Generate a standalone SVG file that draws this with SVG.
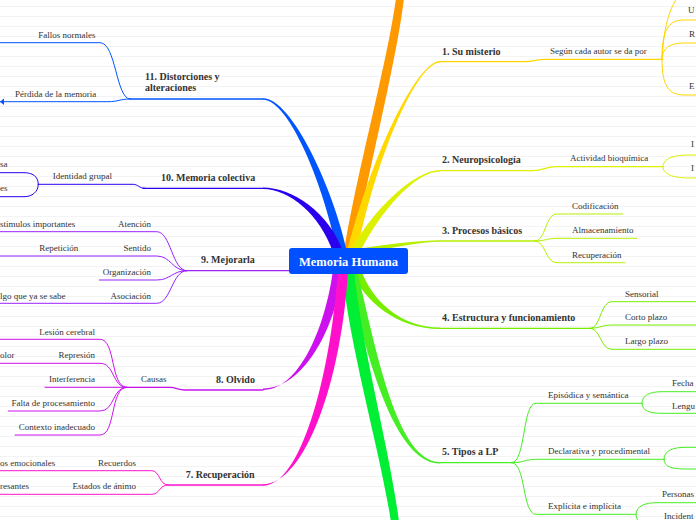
<svg xmlns="http://www.w3.org/2000/svg" width="696" height="520" viewBox="0 0 696 520">
<defs>
<pattern id="bg" width="696" height="10" patternUnits="userSpaceOnUse"><rect width="696" height="10" fill="#ffffff"/><line x1="0" y1="6.5" x2="696" y2="6.5" stroke="#f3f3f3" stroke-width="1"/></pattern>
<style>
.t{font-family:"Liberation Serif","Times New Roman",serif;font-size:9px;fill:#333}
.h{font-family:"Liberation Serif","Times New Roman",serif;font-size:10px;font-weight:bold;fill:#333}
.e{text-anchor:end}
.l{fill:none;stroke-width:1;stroke-linecap:round}
.m{fill:none;stroke-width:1.3;stroke-linecap:round}
</style>
</defs>
<rect width="696" height="520" fill="url(#bg)"/>
<g id="connectors">
<path d="M396,-2 C388,60 355,180 344,252 L354,252 C366,180 397,60 404,-2 Z" fill="#ff9900"/>
<path d="M347,252 C373,150 418,61 440,61 L440,62.5 C418,62.5 378,150 357,252 Z" fill="#ffd800"/>
<path d="M350,252 C372,210 415,170 440,170 L440,171.5 C415,171.5 380,212 360,252 Z" fill="#ddf000"/>
<path d="M356,249 C390,244 420,240.3 440,240.3 L440,241.7 C420,241.7 392,248 362,253 Z" fill="#b5f000"/>
<path d="M351,270 C364,302 398,329 440,329 L440,327.5 C400,327.5 372,300 361,270 Z" fill="#77ee00"/>
<path d="M347,270 C365,350 393,463.5 440,463.5 L440,462 C397,462 376,350 357,270 Z" fill="#44ee22"/>
<path d="M342,270 C350,350 380,450 391,522 L399,522 C390,450 362,350 354,270 Z" fill="#00ee33"/>
<path d="M333,270 C325,330 298,390 263,390 L263,388.5 C302,388.5 335,332 343,270 Z" fill="#cc11ee"/>
<path d="M338,270 C330,380 300,485.8 263,485.8 L263,484.3 C305,484.3 342,380 348,270 Z" fill="#ff11cc"/>
<path d="M337,252 C325,190 290,99.8 263,99.8 L263,98.3 C292,98.3 334,190 347,252 Z" fill="#0055ff"/>
<path d="M333,252 C320,215 290,189 263,189 L263,187.6 C292,187.6 330,213 343,252 Z" fill="#2a00ee"/>
<path d="M289,270 C310,270 330,265 345,260 L345,272 C330,272 310,271.5 289,271.5 Z" fill="#9922ff"/>
</g>
<g id="n1" stroke="#ffd500">
<path class="m" d="M440,61.7 L525,61.7 C533,61.7 536,59.3 545,59.3 L662,59.3"/>
<path class="l" d="M662,59.3 C664,20 672,5 678,-3 M662,59.3 C662,30 668,20 684,20 L697,20 M662,59.3 C662,48 670,43 684,43 L697,43 M662,59.3 C662,85 668,95 684,95 L697,95"/>
<g stroke="none"><text class="h" x="442" y="54.5">1. Su misterio</text><text class="t" x="550" y="54">Según cada autor se da por</text><text class="t" x="688" y="13">U</text><text class="t" x="689" y="37">R</text><text class="t" x="689" y="89">E</text></g>
</g>
<g id="n2" stroke="#ddf000">
<path class="m" d="M440,170.7 L533,170.7 C543,170.7 546,166.7 556,166.7 L663,166.7"/>
<path class="l" d="M663,166.7 C663,159 672,155 690,155 L697,155 M663,166.7 C663,174 672,178 690,178 L697,178"/>
<g stroke="none"><text class="h" x="442" y="163">2. Neuropsicología</text><text class="t" x="570" y="161">Actividad bioquímica</text><text class="t" x="691" y="147">I</text><text class="t" x="691" y="171">I</text></g>
</g>
<g id="n3" stroke="#b5f000">
<path class="m" d="M440,241 L535,241"/>
<path class="l" d="M535,241 C546,241 545,214 557,214 L623,214 M535,241 C545,241 548,238.3 557,238.3 L637,238.3 M535,241 C546,241 545,262.7 557,262.7 L625,262.7"/>
<g stroke="none"><text class="h" x="442" y="233.5">3. Procesos básicos</text><text class="t" x="572" y="209">Codificación</text><text class="t" x="572" y="233">Almacenamiento</text><text class="t" x="572" y="257.5">Recuperación</text></g>
</g>
<g id="n4" stroke="#77ee00">
<path class="m" d="M440,328.3 L590,328.3"/>
<path class="l" d="M590,328.3 C601,328.3 600,301.7 612,301.7 L697,301.7 M590,328.3 C600,328.3 602,325 612,325 L697,325 M590,328.3 C601,328.3 600,349.3 612,349.3 L697,349.3"/>
<g stroke="none"><text class="h" x="442" y="320.5">4. Estructura y funcionamiento</text><text class="t" x="625" y="296.5">Sensorial</text><text class="t" x="625" y="320">Corto plazo</text><text class="t" x="625" y="344">Largo plazo</text></g>
</g>
<g id="n5" stroke="#44ee22">
<path class="m" d="M440,462.7 L511.7,462.7"/>
<path class="l" d="M511.7,462.7 C526,462.7 522,403.3 536,403.3 L642,403.3 M511.7,462.7 C524,462.7 525,459.3 536,459.3 L664,459.3 M511.7,462.7 C526,462.7 522,514.3 536,514.3 L636,514.3"/>
<path class="l" d="M642,403.3 C642,395 650,391.7 662,391.7 L697,391.7 M642,403.3 C642,411 650,413.3 662,413.3 L697,413.3 M664,459.3 C664,451 672,447.3 686,447.3 L697,447.3 M664,459.3 C664,467 672,469 686,469 L697,469 M636,514.3 C636,506 645,502.7 657,502.7 L697,502.7 M636,514.3 C636,520 640,524 645,526"/>
<g stroke="none"><text class="h" x="442" y="455">5. Tipos a LP</text><text class="t" x="548" y="398">Episódica y semántica</text><text class="t" x="548" y="454">Declarativa y procedimental</text><text class="t" x="548" y="509">Explícita e implícita</text><text class="t" x="672" y="386">Fecha</text><text class="t" x="672" y="408.5">Lengu</text><text class="t" x="662" y="497">Personas</text><text class="t" x="664" y="519">Incident</text></g>
</g>
<g id="n11" stroke="#0055ff">
<path class="m" d="M130,99 L263,99"/>
<path class="l" d="M130,99 C116,99 116,42.7 100,42.7 L-1,42.7 M130,99 C120,99 118,101.7 108,101.7 L-1,101.7"/>
<path d="M0,101.7 L4,98.5 L4,104.9 Z" fill="#0055ff" stroke="none"/>
<g stroke="none"><text class="h" x="145" y="79.5">11. Distorciones y</text><text class="h" x="145" y="91">alteraciones</text><text class="t" x="38.3" y="37.5">Fallos normales</text><text class="t" x="15" y="96.5">Pérdida de la memoria</text></g>
</g>
<g id="n10" stroke="#2a00ee">
<path class="m" d="M143,188.3 L263,188.3"/>
<path class="l" d="M38.3,184.3 L133,184.3 C138,184.3 139,188.3 145,188.3 M38.3,184.3 C38.3,176 32,172.7 24,172.7 L-1,172.7 M38.3,184.3 C38.3,192 32,196.7 24,196.7 L-1,196.7"/>
<g stroke="none"><text class="h" x="161" y="180.5">10. Memoria colectiva</text><text class="t" x="52.7" y="179">Identidad grupal</text><text class="t" x="0" y="167">sa</text><text class="t" x="0" y="191">es</text></g>
</g>
<g id="n9" stroke="#9922ff">
<path class="m" d="M186.7,270.7 L290,270.7"/>
<path class="l" d="M186.7,270.7 C172,270.7 171,231.7 156.7,231.7 L-1,231.7 M186.7,270.7 C172,270.7 171,256 156.7,256 L-1,256 M186.7,270.7 C172,270.7 171,280 156.7,280 L99.3,280 M186.7,270.7 C172,270.7 171,303.3 156.7,303.3 L-1,303.3"/>
<g stroke="none"><text class="h" x="201" y="263">9. Mejorarla</text><text class="t e" x="151" y="226.5">Atención</text><text class="t" x="0" y="226.5">stimulos importantes</text><text class="t e" x="151" y="251">Sentido</text><text class="t" x="39.3" y="251">Repetición</text><text class="t e" x="151" y="275">Organización</text><text class="t e" x="151" y="298.5">Asociación</text><text class="t" x="0" y="298.5">lgo que ya se sabe</text></g>
</g>
<g id="n8" stroke="#cc11ee">
<path class="m" d="M126.7,387.3 L170,387.3 C176,387.3 178,390 185,390 L263,390"/>
<path class="l" d="M126.7,387.3 C110,387.3 116,339.3 100,339.3 L-1,339.3 M126.7,387.3 C112,387.3 115,363.3 100,363.3 L-1,363.3 M126.7,387.3 L45,387.3 M126.7,387.3 C112,387.3 115,411 100,411 L8.3,411 M126.7,387.3 C110,387.3 116,435 100,435 L15,435"/>
<g stroke="none"><text class="h" x="216" y="382.5">8. Olvido</text><text class="t" x="141" y="382">Causas</text><text class="t e" x="95" y="334.5">Lesión cerebral</text><text class="t e" x="95" y="358">Represión</text><text class="t" x="0" y="358">olor</text><text class="t e" x="95" y="382">Interferencia</text><text class="t e" x="95" y="405.5">Falta de procesamiento</text><text class="t e" x="95" y="429.5">Contexto inadecuado</text></g>
</g>
<g id="n7" stroke="#ff11cc">
<path class="m" d="M168,485 L263,485"/>
<path class="l" d="M168,485 C159,485 160,470.7 151.7,470.7 L-1,470.7 M168,485 C159,485 160,494.3 151.7,494.3 L-1,494.3"/>
<g stroke="none"><text class="h" x="185.7" y="477.5">7. Recuperación</text><text class="t e" x="136" y="465.5">Recuerdos</text><text class="t" x="0" y="465.5">os emocionales</text><text class="t e" x="136" y="489">Estados de ánimo</text><text class="t" x="0" y="489">resantes</text></g>
</g>
<g id="center">
<rect x="289" y="248" width="119" height="26" rx="3" fill="#0050ff"/>
<text x="348.5" y="266" text-anchor="middle" style="font-family:'Liberation Serif','Times New Roman',serif;font-size:12.5px;font-weight:bold;fill:#ffffff">Memoria Humana</text>
</g>
</svg>
